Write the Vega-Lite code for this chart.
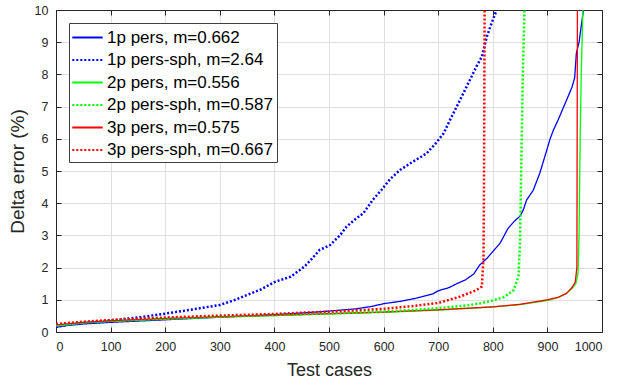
{
  "$schema": "https://vega.github.io/schema/vega-lite/v6.json",
  "autosize": {"type": "none"},
  "padding": {"left": 56, "top": 10, "right": 15, "bottom": 52},
  "width": 546,
  "height": 322,
  "background": "white",
  "config": {
    "font": "Liberation Sans",
    "view": {"stroke": "#262626", "strokeWidth": 1},
    "axis": {
      "labelFont": "Liberation Sans",
      "titleFont": "Liberation Sans",
      "labelColor": "#262626",
      "titleColor": "#262626",
      "domainColor": "#262626",
      "tickColor": "#262626",
      "labelFontSize": 12.5,
      "titleFontSize": 18,
      "titleFontWeight": "normal",
      "gridColor": "#dfdfdf",
      "gridWidth": 1,
      "tickSize": -5,
      "domainWidth": 1
    },
    "legend": {
      "labelFont": "Liberation Sans",
      "labelFontSize": 17,
      "labelColor": "#000000",
      "labelLimit": 0,
      "fillColor": "white",
      "strokeColor": "#404040",
      "padding": 4,
      "rowPadding": 3.5,
      "symbolType": "M-1.6,0H1.6",
      "symbolSize": 361,
      "symbolStrokeWidth": 2,
      "symbolOffset": 4,
      "labelOffset": 9
    }
  },
  "datasets": {
    "errors": [
      {"series": "1p pers, m=0.662", "style": "solid", "case": 0, "err": 0.15},
      {"series": "1p pers, m=0.662", "style": "solid", "case": 20, "err": 0.2},
      {"series": "1p pers, m=0.662", "style": "solid", "case": 50, "err": 0.25},
      {"series": "1p pers, m=0.662", "style": "solid", "case": 100, "err": 0.3},
      {"series": "1p pers, m=0.662", "style": "solid", "case": 150, "err": 0.34},
      {"series": "1p pers, m=0.662", "style": "solid", "case": 200, "err": 0.38},
      {"series": "1p pers, m=0.662", "style": "solid", "case": 250, "err": 0.42},
      {"series": "1p pers, m=0.662", "style": "solid", "case": 300, "err": 0.46},
      {"series": "1p pers, m=0.662", "style": "solid", "case": 350, "err": 0.5},
      {"series": "1p pers, m=0.662", "style": "solid", "case": 400, "err": 0.54},
      {"series": "1p pers, m=0.662", "style": "solid", "case": 450, "err": 0.59},
      {"series": "1p pers, m=0.662", "style": "solid", "case": 500, "err": 0.65},
      {"series": "1p pers, m=0.662", "style": "solid", "case": 550, "err": 0.72},
      {"series": "1p pers, m=0.662", "style": "solid", "case": 580, "err": 0.8},
      {"series": "1p pers, m=0.662", "style": "solid", "case": 600, "err": 0.88},
      {"series": "1p pers, m=0.662", "style": "solid", "case": 630, "err": 0.95},
      {"series": "1p pers, m=0.662", "style": "solid", "case": 660, "err": 1.05},
      {"series": "1p pers, m=0.662", "style": "solid", "case": 690, "err": 1.18},
      {"series": "1p pers, m=0.662", "style": "solid", "case": 700, "err": 1.28},
      {"series": "1p pers, m=0.662", "style": "solid", "case": 720, "err": 1.38},
      {"series": "1p pers, m=0.662", "style": "solid", "case": 734, "err": 1.5},
      {"series": "1p pers, m=0.662", "style": "solid", "case": 750, "err": 1.62},
      {"series": "1p pers, m=0.662", "style": "solid", "case": 765, "err": 1.8},
      {"series": "1p pers, m=0.662", "style": "solid", "case": 776, "err": 2.08},
      {"series": "1p pers, m=0.662", "style": "solid", "case": 790, "err": 2.3},
      {"series": "1p pers, m=0.662", "style": "solid", "case": 800, "err": 2.5},
      {"series": "1p pers, m=0.662", "style": "solid", "case": 813, "err": 2.75},
      {"series": "1p pers, m=0.662", "style": "solid", "case": 828, "err": 3.22},
      {"series": "1p pers, m=0.662", "style": "solid", "case": 840, "err": 3.45},
      {"series": "1p pers, m=0.662", "style": "solid", "case": 850, "err": 3.6},
      {"series": "1p pers, m=0.662", "style": "solid", "case": 856, "err": 3.8},
      {"series": "1p pers, m=0.662", "style": "solid", "case": 862, "err": 4.1},
      {"series": "1p pers, m=0.662", "style": "solid", "case": 874, "err": 4.4},
      {"series": "1p pers, m=0.662", "style": "solid", "case": 886, "err": 4.93},
      {"series": "1p pers, m=0.662", "style": "solid", "case": 898, "err": 5.6},
      {"series": "1p pers, m=0.662", "style": "solid", "case": 905, "err": 6.0},
      {"series": "1p pers, m=0.662", "style": "solid", "case": 911, "err": 6.27},
      {"series": "1p pers, m=0.662", "style": "solid", "case": 920, "err": 6.6},
      {"series": "1p pers, m=0.662", "style": "solid", "case": 930, "err": 7.0},
      {"series": "1p pers, m=0.662", "style": "solid", "case": 935, "err": 7.2},
      {"series": "1p pers, m=0.662", "style": "solid", "case": 945, "err": 7.6},
      {"series": "1p pers, m=0.662", "style": "solid", "case": 950, "err": 7.9},
      {"series": "1p pers, m=0.662", "style": "solid", "case": 953, "err": 8.65},
      {"series": "1p pers, m=0.662", "style": "solid", "case": 958, "err": 9.0},
      {"series": "1p pers, m=0.662", "style": "solid", "case": 962, "err": 9.5},
      {"series": "1p pers, m=0.662", "style": "solid", "case": 966, "err": 10.0},

      {"series": "1p pers-sph, m=2.64", "style": "dotted", "case": 0, "err": 0.16},
      {"series": "1p pers-sph, m=2.64", "style": "dotted", "case": 30, "err": 0.25},
      {"series": "1p pers-sph, m=2.64", "style": "dotted", "case": 60, "err": 0.3},
      {"series": "1p pers-sph, m=2.64", "style": "dotted", "case": 100, "err": 0.36},
      {"series": "1p pers-sph, m=2.64", "style": "dotted", "case": 150, "err": 0.45},
      {"series": "1p pers-sph, m=2.64", "style": "dotted", "case": 200, "err": 0.57},
      {"series": "1p pers-sph, m=2.64", "style": "dotted", "case": 250, "err": 0.7},
      {"series": "1p pers-sph, m=2.64", "style": "dotted", "case": 300, "err": 0.84},
      {"series": "1p pers-sph, m=2.64", "style": "dotted", "case": 325, "err": 0.98},
      {"series": "1p pers-sph, m=2.64", "style": "dotted", "case": 350, "err": 1.15},
      {"series": "1p pers-sph, m=2.64", "style": "dotted", "case": 375, "err": 1.32},
      {"series": "1p pers-sph, m=2.64", "style": "dotted", "case": 400, "err": 1.55},
      {"series": "1p pers-sph, m=2.64", "style": "dotted", "case": 430, "err": 1.72},
      {"series": "1p pers-sph, m=2.64", "style": "dotted", "case": 455, "err": 2.03},
      {"series": "1p pers-sph, m=2.64", "style": "dotted", "case": 470, "err": 2.3},
      {"series": "1p pers-sph, m=2.64", "style": "dotted", "case": 483, "err": 2.55},
      {"series": "1p pers-sph, m=2.64", "style": "dotted", "case": 502, "err": 2.7},
      {"series": "1p pers-sph, m=2.64", "style": "dotted", "case": 520, "err": 3.0},
      {"series": "1p pers-sph, m=2.64", "style": "dotted", "case": 532, "err": 3.27},
      {"series": "1p pers-sph, m=2.64", "style": "dotted", "case": 548, "err": 3.5},
      {"series": "1p pers-sph, m=2.64", "style": "dotted", "case": 563, "err": 3.69},
      {"series": "1p pers-sph, m=2.64", "style": "dotted", "case": 580, "err": 4.1},
      {"series": "1p pers-sph, m=2.64", "style": "dotted", "case": 596, "err": 4.41},
      {"series": "1p pers-sph, m=2.64", "style": "dotted", "case": 612, "err": 4.75},
      {"series": "1p pers-sph, m=2.64", "style": "dotted", "case": 630, "err": 5.03},
      {"series": "1p pers-sph, m=2.64", "style": "dotted", "case": 650, "err": 5.25},
      {"series": "1p pers-sph, m=2.64", "style": "dotted", "case": 679, "err": 5.55},
      {"series": "1p pers-sph, m=2.64", "style": "dotted", "case": 695, "err": 5.85},
      {"series": "1p pers-sph, m=2.64", "style": "dotted", "case": 710, "err": 6.17},
      {"series": "1p pers-sph, m=2.64", "style": "dotted", "case": 722, "err": 6.6},
      {"series": "1p pers-sph, m=2.64", "style": "dotted", "case": 734, "err": 7.0},
      {"series": "1p pers-sph, m=2.64", "style": "dotted", "case": 752, "err": 7.62},
      {"series": "1p pers-sph, m=2.64", "style": "dotted", "case": 770, "err": 8.24},
      {"series": "1p pers-sph, m=2.64", "style": "dotted", "case": 780, "err": 8.55},
      {"series": "1p pers-sph, m=2.64", "style": "dotted", "case": 789, "err": 9.17},
      {"series": "1p pers-sph, m=2.64", "style": "dotted", "case": 798, "err": 9.6},
      {"series": "1p pers-sph, m=2.64", "style": "dotted", "case": 807, "err": 10.0},

      {"series": "2p pers, m=0.556", "style": "solid", "case": 0, "err": 0.18},
      {"series": "2p pers, m=0.556", "style": "solid", "case": 50, "err": 0.28},
      {"series": "2p pers, m=0.556", "style": "solid", "case": 100, "err": 0.33},
      {"series": "2p pers, m=0.556", "style": "solid", "case": 200, "err": 0.4},
      {"series": "2p pers, m=0.556", "style": "solid", "case": 300, "err": 0.46},
      {"series": "2p pers, m=0.556", "style": "solid", "case": 400, "err": 0.51},
      {"series": "2p pers, m=0.556", "style": "solid", "case": 500, "err": 0.56},
      {"series": "2p pers, m=0.556", "style": "solid", "case": 600, "err": 0.61},
      {"series": "2p pers, m=0.556", "style": "solid", "case": 700, "err": 0.68},
      {"series": "2p pers, m=0.556", "style": "solid", "case": 800, "err": 0.78},
      {"series": "2p pers, m=0.556", "style": "solid", "case": 850, "err": 0.85},
      {"series": "2p pers, m=0.556", "style": "solid", "case": 900, "err": 0.98},
      {"series": "2p pers, m=0.556", "style": "solid", "case": 920, "err": 1.07},
      {"series": "2p pers, m=0.556", "style": "solid", "case": 935, "err": 1.2},
      {"series": "2p pers, m=0.556", "style": "solid", "case": 945, "err": 1.35},
      {"series": "2p pers, m=0.556", "style": "solid", "case": 952, "err": 1.5},
      {"series": "2p pers, m=0.556", "style": "solid", "case": 956, "err": 1.8},
      {"series": "2p pers, m=0.556", "style": "solid", "case": 958, "err": 3.0},
      {"series": "2p pers, m=0.556", "style": "solid", "case": 960, "err": 6.0},
      {"series": "2p pers, m=0.556", "style": "solid", "case": 962, "err": 8.0},
      {"series": "2p pers, m=0.556", "style": "solid", "case": 965, "err": 10.0},

      {"series": "2p pers-sph, m=0.587", "style": "dotted", "case": 0, "err": 0.2},
      {"series": "2p pers-sph, m=0.587", "style": "dotted", "case": 50, "err": 0.3},
      {"series": "2p pers-sph, m=0.587", "style": "dotted", "case": 100, "err": 0.35},
      {"series": "2p pers-sph, m=0.587", "style": "dotted", "case": 200, "err": 0.42},
      {"series": "2p pers-sph, m=0.587", "style": "dotted", "case": 300, "err": 0.48},
      {"series": "2p pers-sph, m=0.587", "style": "dotted", "case": 400, "err": 0.53},
      {"series": "2p pers-sph, m=0.587", "style": "dotted", "case": 500, "err": 0.58},
      {"series": "2p pers-sph, m=0.587", "style": "dotted", "case": 600, "err": 0.64},
      {"series": "2p pers-sph, m=0.587", "style": "dotted", "case": 650, "err": 0.68},
      {"series": "2p pers-sph, m=0.587", "style": "dotted", "case": 700, "err": 0.74},
      {"series": "2p pers-sph, m=0.587", "style": "dotted", "case": 750, "err": 0.82},
      {"series": "2p pers-sph, m=0.587", "style": "dotted", "case": 780, "err": 0.9},
      {"series": "2p pers-sph, m=0.587", "style": "dotted", "case": 800, "err": 0.98},
      {"series": "2p pers-sph, m=0.587", "style": "dotted", "case": 820, "err": 1.08},
      {"series": "2p pers-sph, m=0.587", "style": "dotted", "case": 838, "err": 1.3},
      {"series": "2p pers-sph, m=0.587", "style": "dotted", "case": 847, "err": 1.72},
      {"series": "2p pers-sph, m=0.587", "style": "dotted", "case": 850, "err": 2.86},
      {"series": "2p pers-sph, m=0.587", "style": "dotted", "case": 852, "err": 5.0},
      {"series": "2p pers-sph, m=0.587", "style": "dotted", "case": 855, "err": 8.0},
      {"series": "2p pers-sph, m=0.587", "style": "dotted", "case": 858, "err": 10.0},

      {"series": "3p pers, m=0.575", "style": "solid", "case": 0, "err": 0.22},
      {"series": "3p pers, m=0.575", "style": "solid", "case": 50, "err": 0.3},
      {"series": "3p pers, m=0.575", "style": "solid", "case": 100, "err": 0.35},
      {"series": "3p pers, m=0.575", "style": "solid", "case": 200, "err": 0.42},
      {"series": "3p pers, m=0.575", "style": "solid", "case": 300, "err": 0.47},
      {"series": "3p pers, m=0.575", "style": "solid", "case": 400, "err": 0.52},
      {"series": "3p pers, m=0.575", "style": "solid", "case": 500, "err": 0.57},
      {"series": "3p pers, m=0.575", "style": "solid", "case": 600, "err": 0.62},
      {"series": "3p pers, m=0.575", "style": "solid", "case": 700, "err": 0.69},
      {"series": "3p pers, m=0.575", "style": "solid", "case": 800, "err": 0.78},
      {"series": "3p pers, m=0.575", "style": "solid", "case": 850, "err": 0.86},
      {"series": "3p pers, m=0.575", "style": "solid", "case": 900, "err": 1.0},
      {"series": "3p pers, m=0.575", "style": "solid", "case": 920, "err": 1.08},
      {"series": "3p pers, m=0.575", "style": "solid", "case": 935, "err": 1.2},
      {"series": "3p pers, m=0.575", "style": "solid", "case": 945, "err": 1.38},
      {"series": "3p pers, m=0.575", "style": "solid", "case": 951, "err": 1.55},
      {"series": "3p pers, m=0.575", "style": "solid", "case": 954, "err": 2.0},
      {"series": "3p pers, m=0.575", "style": "solid", "case": 955, "err": 10.0},

      {"series": "3p pers-sph, m=0.667", "style": "dotted", "case": 0, "err": 0.25},
      {"series": "3p pers-sph, m=0.667", "style": "dotted", "case": 50, "err": 0.32},
      {"series": "3p pers-sph, m=0.667", "style": "dotted", "case": 100, "err": 0.37},
      {"series": "3p pers-sph, m=0.667", "style": "dotted", "case": 200, "err": 0.45},
      {"series": "3p pers-sph, m=0.667", "style": "dotted", "case": 300, "err": 0.51},
      {"series": "3p pers-sph, m=0.667", "style": "dotted", "case": 400, "err": 0.56},
      {"series": "3p pers-sph, m=0.667", "style": "dotted", "case": 450, "err": 0.6},
      {"series": "3p pers-sph, m=0.667", "style": "dotted", "case": 500, "err": 0.63},
      {"series": "3p pers-sph, m=0.667", "style": "dotted", "case": 600, "err": 0.72},
      {"series": "3p pers-sph, m=0.667", "style": "dotted", "case": 650, "err": 0.8},
      {"series": "3p pers-sph, m=0.667", "style": "dotted", "case": 700, "err": 0.9},
      {"series": "3p pers-sph, m=0.667", "style": "dotted", "case": 740, "err": 1.1},
      {"series": "3p pers-sph, m=0.667", "style": "dotted", "case": 770, "err": 1.3},
      {"series": "3p pers-sph, m=0.667", "style": "dotted", "case": 780, "err": 1.41},
      {"series": "3p pers-sph, m=0.667", "style": "dotted", "case": 781, "err": 1.72},
      {"series": "3p pers-sph, m=0.667", "style": "dotted", "case": 783, "err": 2.3},
      {"series": "3p pers-sph, m=0.667", "style": "dotted", "case": 784, "err": 5.0},
      {"series": "3p pers-sph, m=0.667", "style": "dotted", "case": 785, "err": 10.0}
    ]
  },
  "data": {"name": "errors"},
  "resolve": {"axis": {"x": "independent", "y": "independent"}},
  "layer": [
    {
      "layer": [
        {
          "transform": [{"filter": "datum.style === 'solid'"}],
          "mark": {"type": "line", "clip": true, "strokeWidth": 1.3}
        },
        {
          "transform": [{"filter": "datum.style === 'dotted'"}],
          "mark": {"type": "line", "clip": true, "strokeWidth": 2.5, "strokeCap": "butt"}
        }
      ],
      "encoding": {
        "x": {
          "field": "case", "type": "quantitative",
          "scale": {"domain": [0, 1000], "nice": false, "zero": false},
          "axis": {"title": "Test cases", "format": "d", "values": [0, 100, 200, 300, 400, 500, 600, 700, 800, 900, 1000], "labelPadding": 13, "titlePadding": 9, "grid": true, "orient": "bottom"}
        },
        "y": {
          "field": "err", "type": "quantitative",
          "scale": {"domain": [0, 10], "nice": false},
          "axis": {"title": "Delta error (%)", "values": [0, 1, 2, 3, 4, 5, 6, 7, 8, 9, 10], "labelPadding": 13, "titlePadding": 7, "titleFontSize": 19, "grid": true, "orient": "left"}
        },
        "color": {
          "field": "series", "type": "nominal",
          "scale": {
            "domain": ["1p pers, m=0.662", "1p pers-sph, m=2.64", "2p pers, m=0.556", "2p pers-sph, m=0.587", "3p pers, m=0.575", "3p pers-sph, m=0.667"],
            "range": ["#0000ff", "#0000ff", "#00ff00", "#00ff00", "#ff0000", "#ff0000"]
          },
          "legend": {"title": null, "orient": "top-left", "offset": 13}
        },
        "strokeDash": {
          "field": "series", "type": "nominal",
          "scale": {
            "domain": ["1p pers, m=0.662", "1p pers-sph, m=2.64", "2p pers, m=0.556", "2p pers-sph, m=0.587", "3p pers, m=0.575", "3p pers-sph, m=0.667"],
            "range": [[1, 0], [2, 2], [1, 0], [2, 2], [1, 0], [2, 2]]
          },
          "legend": {"title": null, "orient": "top-left", "offset": 13}
        }
      }
    },
    {
      "mark": {"type": "point", "opacity": 0},
      "encoding": {
        "x": {
          "field": "case", "type": "quantitative",
          "axis": {"orient": "top", "title": null, "labels": false, "grid": false, "values": [0, 100, 200, 300, 400, 500, 600, 700, 800, 900, 1000]}
        },
        "y": {
          "field": "err", "type": "quantitative",
          "axis": {"orient": "right", "title": null, "labels": false, "grid": false, "values": [0, 1, 2, 3, 4, 5, 6, 7, 8, 9, 10]}
        }
      }
    }
  ]
}
